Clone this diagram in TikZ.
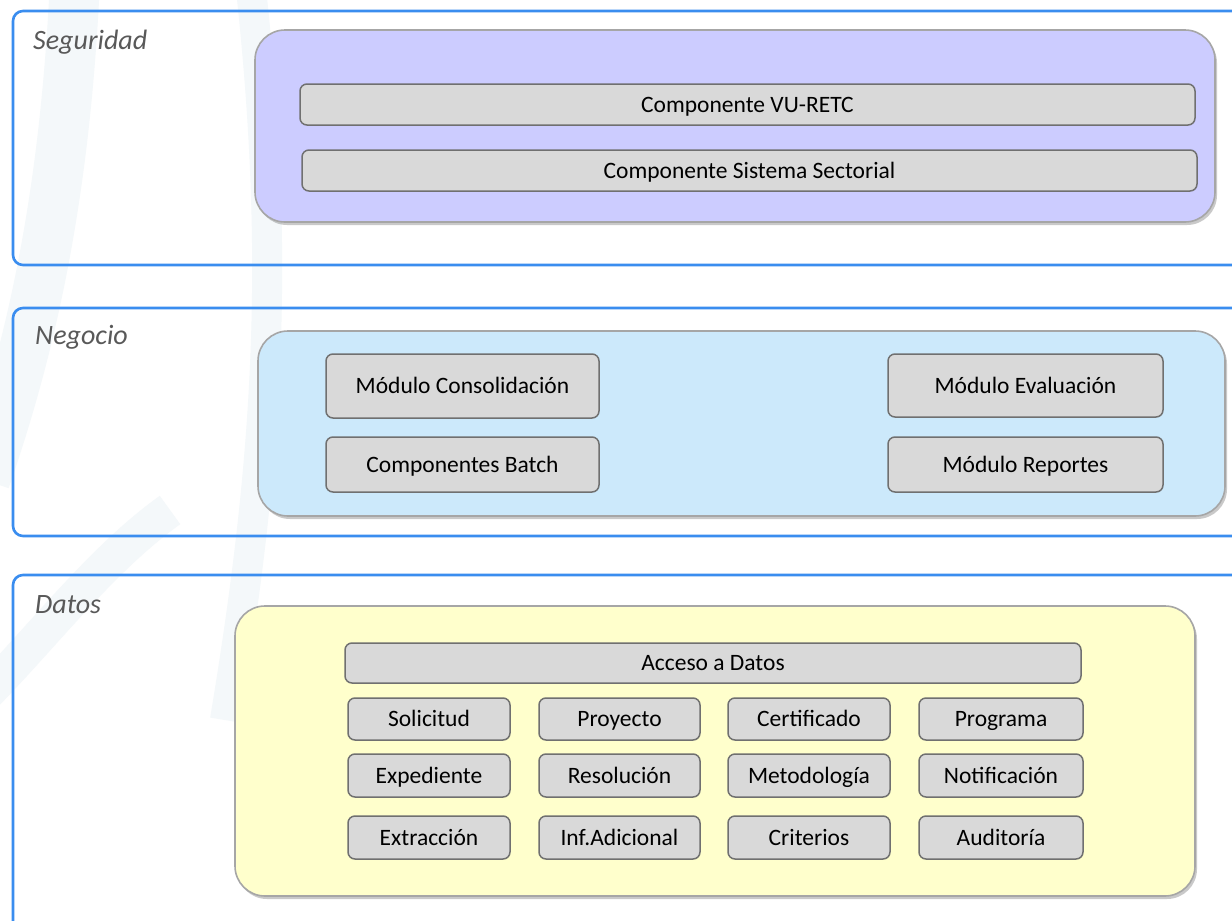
\documentclass[tikz,border=0pt]{standalone}
\usepackage{fontspec}
\setmainfont{Carlito}
\usetikzlibrary{shadows}
\definecolor{layerblue}{HTML}{3A8DEF}
\definecolor{purplefill}{HTML}{CCCCFF}
\definecolor{bluefill}{HTML}{CCE9FB}
\definecolor{yellowfill}{HTML}{FFFFCC}
\definecolor{boxfill}{HTML}{D9D9D9}
\definecolor{boxline}{HTML}{707070}
\definecolor{groupline}{HTML}{A6A6A6}
\definecolor{labelgray}{HTML}{595959}
\definecolor{wmark}{HTML}{F4F8FA}
\tikzset{
  layer/.style={draw=layerblue, line width=2.6pt, rounded corners=10pt, rectangle, inner sep=0pt},
  group/.style={draw=groupline, line width=1.6pt, rounded corners=30pt, rectangle, inner sep=0pt,
    drop shadow={shadow xshift=2pt, shadow yshift=-3pt, opacity=0.35, fill=black!60}},
  comp/.style={draw=boxline, line width=1.5pt, fill=boxfill, rounded corners=7pt, rectangle, inner sep=0pt,
    font=\fontsize{23.5}{28}\selectfont, text=black, text height=15pt, text depth=0pt},
  layerlabel/.style={anchor=base west, inner sep=0pt, font=\fontsize{28}{32}\selectfont\itshape, text=labelgray},
}
\begin{document}
\begin{tikzpicture}[x=1pt,y=-1pt]
\useasboundingbox (0,0) rectangle (1232,921);
\clip (0,0) rectangle (1232,921);
\fill[white] (0,0) rectangle (1232,921);
% faint watermark bands
\draw[wmark, line width=50pt] (75,-20) .. controls (65,200) and (30,350) .. (-15,480);
\draw[wmark, line width=35pt] (-20,700) .. controls (40,640) and (100,560) .. (170,510);
\draw[wmark, line width=30pt] (250,-20) .. controls (280,250) and (270,450) .. (225,720);
% layers
\node[layer, minimum width=1247pt, minimum height=254pt] (seg) at (636.5,138) {};
\node[layer, minimum width=1247pt, minimum height=228pt] (neg) at (636.5,422) {};
\node[layer, minimum width=1247pt, minimum height=365pt] (dat) at (636.5,757.5) {};
\node[layerlabel] (segl) at (33,49) {Seguridad};
\node[layerlabel] (negl) at (35,344) {Negocio};
\node[layerlabel] (datl) at (35,613) {Datos};
% groups
\node[group, fill=purplefill, minimum width=960pt, minimum height=192pt] (gseg) at (735,126) {};
\node[group, fill=bluefill, minimum width=967pt, minimum height=185pt] (gneg) at (741.5,423.5) {};
\node[group, fill=yellowfill, minimum width=960pt, minimum height=290pt] (gdat) at (715,751) {};
% seguridad components
\node[comp, minimum width=895pt, minimum height=41pt] (vu) at (747.5,104.5) {Componente VU-RETC};
\node[comp, minimum width=895pt, minimum height=41pt] (sect) at (749.5,170.5) {Componente Sistema Sectorial};
% negocio components
\node[comp, minimum width=273pt, minimum height=64pt] (cons) at (462.5,386) {Módulo Consolidación};
\node[comp, minimum width=273pt, minimum height=55pt] (batch) at (462.5,464.5) {Componentes Batch};
\node[comp, minimum width=275pt, minimum height=63pt] (eval) at (1025.5,385.5) {Módulo Evaluación};
\node[comp, minimum width=275pt, minimum height=55pt] (rep) at (1025.5,464.5) {Módulo Reportes};
% datos components
\node[comp, minimum width=736pt, minimum height=40pt] (acc) at (713,663) {Acceso a Datos};
\node[comp, minimum width=162pt, minimum height=42pt] (sol) at (429,719) {Solicitud};
\node[comp, minimum width=161pt, minimum height=42pt] (pro) at (619.5,719) {Proyecto};
\node[comp, minimum width=162pt, minimum height=42pt] (cer) at (809,719) {Certificado};
\node[comp, minimum width=164pt, minimum height=42pt] (prg) at (1001,719) {Programa};
\node[comp, minimum width=162pt, minimum height=43pt] (exp) at (429,775.5) {Expediente};
\node[comp, minimum width=161pt, minimum height=43pt] (res) at (619.5,775.5) {Resolución};
\node[comp, minimum width=162pt, minimum height=43pt] (met) at (809,775.5) {Metodología};
\node[comp, minimum width=164pt, minimum height=43pt] (not) at (1001,775.5) {Notificación};
\node[comp, minimum width=162pt, minimum height=43pt] (ext) at (429,837.5) {Extracción};
\node[comp, minimum width=161pt, minimum height=43pt] (inf) at (619.5,837.5) {Inf.Adicional};
\node[comp, minimum width=162pt, minimum height=43pt] (cri) at (809,837.5) {Criterios};
\node[comp, minimum width=164pt, minimum height=43pt] (aud) at (1001,837.5) {Auditoría};
\end{tikzpicture}
\end{document}
